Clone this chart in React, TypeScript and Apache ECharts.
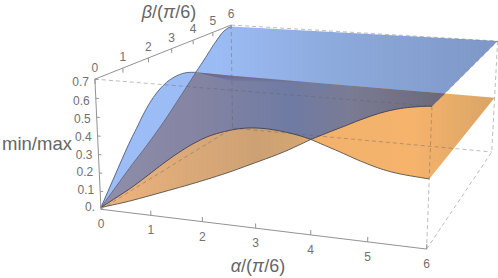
import React, { useEffect, useRef } from "react";
import * as echarts from "echarts";

// Tick labels
const alphaTicks = [0, 1, 2, 3, 4, 5, 6];
const betaTicks = [0, 1, 2, 3, 4, 5, 6];
const zTicks = ["0.", "0.1", "0.2", "0.3", "0.4", "0.5", "0.6", "0.7"];
const zTickValues = [0, 0.1, 0.2, 0.3, 0.4, 0.5, 0.6, 0.7];

// Edge alpha = 0 of the surfaces: value against beta
const edgeBeta = [0, 1.09, 1.8, 2.55, 3.15, 3.62, 4.1, 4.6, 5, 5.47, 5.79, 6];
const edgeZ = [0.01, 0.132, 0.205, 0.29, 0.368, 0.43, 0.495, 0.56, 0.615, 0.67, 0.688, 0.69];

// Fold of the blue surface seen at the left
const foldBeta = [0, 1, 1.43, 1.86, 2.29, 2.73, 3.18, 3.63, 4.1];
const foldZ = [0.01, 0.245, 0.335, 0.42, 0.48, 0.515, 0.527, 0.52, 0.495];

// Orange surface along beta = 0, left and right of the crossing
const lowerAlphaLeft = [0, 0.56, 1.25, 1.89, 2.46, 2.89, 3.5, 3.99];
const lowerZLeft = [0.01, 0.062, 0.135, 0.205, 0.272, 0.328, 0.41, 0.488];
const lowerAlphaRight = [3.99, 4.25, 4.51, 4.85, 5.19, 5.52, 6];
const lowerZRight = [0.488, 0.463, 0.438, 0.404, 0.376, 0.36, 0.35];

// Blue surface along beta = 0, left and right of the crossing
const upperAlphaLeft = [0, 0.57, 0.92, 1.26, 1.58, 1.91, 2.23, 2.66, 3.02, 3.38, 3.73, 3.99];
const upperZLeft = [0.01, 0.126, 0.205, 0.285, 0.355, 0.418, 0.465, 0.505, 0.52, 0.518, 0.505, 0.488];
const upperAlphaRight = [3.99, 4.3, 4.59, 4.84, 5.17, 5.49, 5.81, 6];
const upperZRight = [0.488, 0.532, 0.572, 0.607, 0.648, 0.677, 0.694, 0.7];

// Far values of the two sheets (alpha, beta, z)
const blueFarRight = [6, 6, 0.7];
const blueNearRight = [6, 0, 0.7];
const orangeFarLeft = [0, 6, 0.36];
const orangeFarRight = [6, 6, 0.347];
const orangeNearRight = [6, 0, 0.35];
const orangeHidden = [4.94, 6, 0.35];

// Camera calibration: box corners on the page
const boxCorners: number[][] = [
  [0, 0, 0, 101, 207],
  [6, 0, 0, 427, 250],
  [0, 6, 0, 232, 131],
  [6, 6, 0, 492, 150],
  [0, 0, 0.7, 94.5, 79],
  [6, 0, 0.7, 432, 108],
  [0, 6, 0.7, 232, 24],
  [6, 6, 0.7, 497, 41],
];

function solve(A: number[][], b: number[]) {
  const n = b.length;
  const M = A.map((r, i) => [...r, b[i]]);
  for (let c = 0; c < n; c++) {
    let p = c;
    for (let r = c + 1; r < n; r++) if (Math.abs(M[r][c]) > Math.abs(M[p][c])) p = r;
    [M[c], M[p]] = [M[p], M[c]];
    for (let r = 0; r < n; r++) {
      if (r === c) continue;
      const f = M[r][c] / M[c][c];
      for (let k = c; k <= n; k++) M[r][k] -= f * M[c][k];
    }
  }
  return M.map((r, i) => r[n] / r[i]);
}

function fitCamera() {
  const rows: number[][] = [];
  const rhs: number[] = [];
  for (const [a0, b0, z0, x, y] of boxCorners) {
    const a = a0 / 6, b = b0 / 6, c = z0 / 0.7;
    rows.push([a, b, c, 1, 0, 0, 0, 0, -x * a, -x * b, -x * c]);
    rhs.push(x);
    rows.push([0, 0, 0, 0, a, b, c, 1, -y * a, -y * b, -y * c]);
    rhs.push(y);
  }
  const N = 11;
  const AtA = Array.from({ length: N }, () => new Array(N).fill(0));
  const Atb = new Array(N).fill(0);
  rows.forEach((r, i) => {
    for (let p = 0; p < N; p++) {
      Atb[p] += r[p] * rhs[i];
      for (let q = 0; q < N; q++) AtA[p][q] += r[p] * r[q];
    }
  });
  return solve(AtA, Atb);
}

const cam = fitCamera();
function project(alpha: number, beta: number, z: number) {
  const a = alpha / 6, b = beta / 6, c = z / 0.7;
  const w = cam[8] * a + cam[9] * b + cam[10] * c + 1;
  return [
    (cam[0] * a + cam[1] * b + cam[2] * c + cam[3]) / w,
    (cam[4] * a + cam[5] * b + cam[6] * c + cam[7]) / w,
  ];
}

// Rounds a read polyline for drawing (Catmull-Rom through the read points)
function round(pts: number[][]) {
  const out: number[][] = [];
  for (let i = 0; i < pts.length - 1; i++) {
    const p0 = pts[Math.max(i - 1, 0)], p1 = pts[i], p2 = pts[i + 1], p3 = pts[Math.min(i + 2, pts.length - 1)];
    for (let s = 0; s < 6; s++) {
      const t = s / 6, t2 = t * t, t3 = t2 * t;
      out.push([0, 1].map((k) =>
        0.5 * (2 * p1[k] + (p2[k] - p0[k]) * t + (2 * p0[k] - 5 * p1[k] + 4 * p2[k] - p3[k]) * t2 + (3 * p1[k] - p0[k] - 3 * p2[k] + p3[k]) * t3)
      ));
    }
  }
  out.push(pts[pts.length - 1]);
  return out;
}

const P = (t: number[]) => project(t[0], t[1], t[2]);
const cut = edgeBeta.indexOf(4.1);
const edgeInner = round(edgeBeta.slice(0, cut + 1).map((b, i) => project(0, b, edgeZ[i])));
const edgeUpper = round(edgeBeta.slice(cut).map((b, i) => project(0, b, edgeZ[i + cut])));
const foldPts = round(foldBeta.map((b, i) => project(0, b, foldZ[i])));
const lowerPts = [
  ...round(lowerAlphaLeft.map((a, i) => project(a, 0, lowerZLeft[i]))),
  ...round(lowerAlphaRight.map((a, i) => project(a, 0, lowerZRight[i]))),
];
const upperPts = [
  ...round(upperAlphaLeft.map((a, i) => project(a, 0, upperZLeft[i]))),
  ...round(upperAlphaRight.map((a, i) => project(a, 0, upperZRight[i]))),
];

const axisColor = "#929292";
const textColor = "#707070";
const titleColor = "#666666";
const font = "Liberation Sans";
const dashColor = "rgba(95,95,105,0.42)";

const grad = (stops: [number, string][], x2 = 1, y2 = 0) =>
  new echarts.graphic.LinearGradient(0, 0, x2, y2, stops.map(([offset, color]) => ({ offset, color })));

function poly(points: number[][], fill: any) {
  return { type: "polygon", shape: { points }, style: { fill, stroke: "none" }, silent: true };
}
function line(points: number[][], stroke: string, lineWidth = 1, lineDash?: number[]) {
  return {
    type: "polyline",
    shape: { points },
    style: { stroke, lineWidth, fill: "none", lineDash },
    silent: true,
  };
}
function label(text: string, x: number, y: number, fontSize = 12, align = "center", extra: any = {}) {
  return {
    type: "text",
    style: { text, x, y, fill: textColor, fontFamily: font, fontSize, align, verticalAlign: "middle", ...extra },
    silent: true,
  };
}

function renderItem() {
  const kids: any[] = [];
  // Blue sheet
  kids.push(
    poly(
      [...foldPts, ...edgeUpper.slice(1), P(blueFarRight), P(blueNearRight), ...[...upperPts].reverse()],
      grad([[0, "#9dbdf6"], [0.3, "#9bbbf4"], [0.55, "#8facdf"], [1, "#7d97c6"]])
    )
  );
  // Orange sheet
  kids.push(
    poly(
      [...lowerPts, P(orangeNearRight), P(orangeFarRight), P(orangeHidden), P(orangeFarLeft), ...[...edgeInner].reverse()],
      grad([[0, "#f0b47c"], [0.2, "#dcaa79"], [0.4, "#cda174"], [0.5, "#d3a572"], [0.55, "#f2b26c"], [0.8, "#f5b36c"], [1, "#d9a466"]])
    )
  );
  // Overlap of both sheets
  kids.push(
    poly(
      [...edgeInner, P(orangeFarLeft), P(orangeHidden), P(blueNearRight), ...[...upperPts].reverse()],
      grad([[0, "#8f8fab"], [0.3, "#8383a2"], [0.55, "#6f7ba4"], [0.72, "#7a7b94"], [1, "#6b6879"]])
    )
  );
  // Dark crease under the far edge
  kids.push(
    poly(
      [project(0, 4.1, 0.495), P(orangeFarLeft), project(2, 6, 0.356), project(0, 6, 0.325)],
      grad([[0, "rgba(50,40,60,0.35)"], [1, "rgba(50,40,60,0.02)"]], 0, 1)
    )
  );

  // Box edges seen through the surfaces
  const dashes: number[][][] = [
    [project(0, 0, 0.7), project(6, 0, 0.7)],
    [project(6, 0, 0.7), project(6, 0, 0)],
    [project(0, 6, 0.7), project(6, 6, 0.7)],
    [project(6, 6, 0.7), project(6, 6, 0)],
    [project(6, 0, 0.7), project(6, 6, 0.7)],
    [project(0, 6, 0.7), project(0, 6, 0)],
    [project(0, 0, 0), project(0, 6, 0)],
    [project(0, 6, 0), project(6, 6, 0)],
    [project(6, 0, 0), project(6, 6, 0)],
  ];
  dashes.forEach((d) => kids.push(line(d, dashColor, 1, [4, 3])));

  // Surface outlines
  kids.push(line(lowerPts, "#55504e", 0.9));
  kids.push(line(upperPts, "#3f4050", 0.9));
  kids.push(line(foldPts, "#4e5a78", 0.9));
  kids.push(line(edgeInner, "#4e5a78", 0.7));
  kids.push(line(edgeUpper, "#4e5a78", 0.9));

  // Axes
  kids.push(line([project(0, 0, 0), project(6, 0, 0)], axisColor, 1));
  kids.push(line([project(0, 0, 0), project(0, 0, 0.7)], axisColor, 1));
  kids.push(line([project(0, 0, 0.7), project(0, 6, 0.7)], axisColor, 1));

  alphaTicks.forEach((t) => {
    const p = project(t, 0, 0);
    kids.push(line([p, project(t, 0, 0.025)], axisColor, 1));
    kids.push(label(String(t), p[0], p[1] + 15));
  });
  betaTicks.forEach((t) => {
    const p = project(0, t, 0.7);
    kids.push(line([p, project(0, t, 0.675)], axisColor, 1));
    kids.push(label(String(t), p[0], p[1] - 11));
  });
  zTicks.forEach((t, i) => {
    const p = project(0, 0, zTickValues[i]);
    kids.push(line([p, project(0.06, 0, zTickValues[i])], axisColor, 1));
    kids.push(label(t, p[0] - 6, p[1] + (5 * i) / 7 - 2, 12, "right"));
  });

  // Axis titles
  const rich = { i: { fontStyle: "italic", fontSize: 18, fontFamily: font, fill: titleColor } };
  kids.push(label("{i|β}/({i|π}/6)", 169, 12, 18, "center", { rich, fill: titleColor }));
  kids.push(label("{i|α}/({i|π}/6)", 258, 266, 18, "center", { rich, fill: titleColor }));
  kids.push(label("min/max", 37, 143, 18.5, "center", { fill: titleColor }));

  return { type: "group", children: kids };
}

export default function App() {
  const ref = useRef<HTMLDivElement>(null);
  useEffect(() => {
    const chart = echarts.init(ref.current!, undefined, { renderer: "svg" });
    chart.setOption({
      animation: false,
      backgroundColor: "#ffffff",
      series: [{ type: "custom", coordinateSystem: "none", data: [[0]], renderItem, silent: true }],
    });
    return () => chart.dispose();
  }, []);
  return <div ref={ref} style={{ position: "fixed", left: 0, top: 0, width: 498, height: 278 }} />;
}
